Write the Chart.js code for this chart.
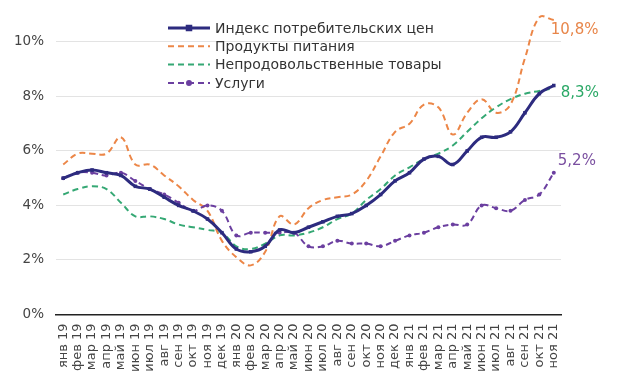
<!DOCTYPE html>
<html>
<head>
<meta charset="utf-8">
<script src="https://cdn.jsdelivr.net/npm/chart.js@4"></script>
<style>
  body { margin: 0; background: #fff; }
  #wrap { width: 620px; height: 381px; }
</style>
</head>
<body>
<div id="wrap"><canvas id="infl"></canvas></div>
<script>
const months = ['янв 19', 'фев 19', 'мар 19', 'апр 19', 'май 19', 'июн 19', 'июл 19', 'авг 19', 'сен 19', 'окт 19', 'ноя 19', 'дек 19',
    'янв 20', 'фев 20', 'мар 20', 'апр 20', 'май 20', 'июн 20', 'июл 20', 'авг 20', 'сен 20', 'окт 20', 'ноя 20', 'дек 20',
    'янв 21', 'фев 21', 'мар 21', 'апр 21', 'май 21', 'июн 21', 'июл 21', 'авг 21', 'сен 21', 'окт 21', 'ноя 21'];

const cpi      = [5.0, 5.2, 5.3, 5.2, 5.1, 4.7, 4.6, 4.3, 4.0, 3.8, 3.5, 3.0, 2.4, 2.3, 2.5, 3.1, 3.0, 3.2, 3.4, 3.6, 3.7, 4.0, 4.4, 4.9, 5.2, 5.7, 5.8, 5.5, 6.0, 6.5, 6.5, 6.7, 7.4, 8.1, 8.4];
const food     = [5.5, 5.9, 5.9, 5.9, 6.5, 5.5, 5.5, 5.1, 4.7, 4.2, 3.8, 2.7, 2.1, 1.8, 2.3, 3.6, 3.3, 3.9, 4.2, 4.3, 4.4, 4.9, 5.8, 6.7, 7.0, 7.7, 7.6, 6.6, 7.4, 7.9, 7.4, 7.7, 9.4, 10.9, 10.8];
const nonFood  = [4.4, 4.6, 4.7, 4.6, 4.1, 3.6, 3.6, 3.5, 3.3, 3.2, 3.1, 3.0, 2.5, 2.4, 2.6, 2.9, 2.9, 3.0, 3.2, 3.5, 3.7, 4.2, 4.6, 5.1, 5.4, 5.7, 5.9, 6.2, 6.7, 7.2, 7.6, 7.9, 8.1, 8.2, 8.3];
const services = [5.0, 5.2, 5.2, 5.1, 5.2, 4.9, 4.6, 4.4, 4.1, 3.8, 4.0, 3.8, 2.9, 3.0, 3.0, 3.0, 3.0, 2.5, 2.5, 2.7, 2.6, 2.6, 2.5, 2.7, 2.9, 3.0, 3.2, 3.3, 3.3, 4.0, 3.9, 3.8, 4.2, 4.4, 5.2];

const yTicks = [0, 2, 4, 6, 8, 10];

const FONT = 'DejaVu Sans';

// легенда столбиком, как в исходнике
const sideLegend = {
    id: 'sideLegend',
    afterDraw(chart) {
        const ctx = chart.ctx;
        ctx.save();
        ctx.font = '14px "' + FONT + '"';
        ctx.textBaseline = 'middle';
        chart.data.datasets.forEach((ds, i) => {
            const y = 28 + i * 18.3;
            ctx.strokeStyle = ds.borderColor;
            ctx.lineWidth = ds.borderWidth;
            ctx.setLineDash(ds.borderDash || []);
            ctx.beginPath();
            ctx.moveTo(168, y);
            ctx.lineTo(210, y);
            ctx.stroke();
            ctx.setLineDash([]);
            if (ds.pointRadius) {
                ctx.fillStyle = ds.borderColor;
                Chart.helpers.drawPoint(ctx, {pointStyle: ds.pointStyle, radius: ds.pointRadius, rotation: 0, borderWidth: 1}, 189, y);
            }
            ctx.fillStyle = '#333';
            ctx.fillText(ds.label, 215, y + 1);
        });
        ctx.restore();
    }
};

// подписи последних значений
const endLabels = {
    id: 'endLabels',
    afterDatasetsDraw(chart) {
        const ctx = chart.ctx;
        ctx.save();
        ctx.font = '15px "' + FONT + '"';
        ctx.textBaseline = 'middle';
        chart.data.datasets.forEach((ds, i) => {
            if (ds.endDy === undefined) return;
            const pts = chart.getDatasetMeta(i).data;
            const p = pts[pts.length - 1];
            const v = ds.data[ds.data.length - 1];
            ctx.fillStyle = ds.endColor;
            ctx.fillText(v.toFixed(1).replace('.', ',') + '%', p.x + ds.endDx, p.y + ds.endDy);
        });
        ctx.restore();
    }
};

const ctx = document.getElementById('infl').getContext('2d');
const chart = new Chart(ctx, {
    type: 'line',
    data: {
        labels: months,
        datasets: [{
            label: 'Индекс потребительских цен',
            data: cpi,
            borderColor: '#2d2b7f',
            backgroundColor: '#2d2b7f',
            borderWidth: 3,
            pointStyle: 'rect',
            pointRadius: 2.5,
            pointBorderWidth: 0,
            tension: 0.4,
            order: 0
        }, {
            label: 'Продукты питания',
            data: food,
            borderColor: '#ec8647',
            borderWidth: 2,
            borderDash: [6, 4],
            pointRadius: 0,
            tension: 0.4,
            endColor: '#e8864a', endDx: -3, endDy: 10,
            order: 3
        }, {
            label: 'Непродовольственные товары',
            data: nonFood,
            borderColor: '#35a874',
            borderWidth: 2,
            borderDash: [6, 4],
            pointRadius: 0,
            tension: 0.4,
            endColor: '#2aa866', endDx: 7, endDy: 5,
            order: 2
        }, {
            label: 'Услуги',
            data: services,
            borderColor: '#6b3fa0',
            backgroundColor: '#6b3fa0',
            borderWidth: 2,
            borderDash: [6, 4],
            pointStyle: 'circle',
            pointRadius: 2,
            pointBorderWidth: 0,
            tension: 0.4,
            endColor: '#7a4fa0', endDx: 4, endDy: -12,
            order: 1
        }]
    },
    plugins: [sideLegend, endLabels],
    options: {
        responsive: true,
        maintainAspectRatio: false,
        animation: false,
        clip: false,
        layout: { padding: { top: 2, right: 59, bottom: 0, left: 2 } },
        plugins: {
            legend: { display: false },
            tooltip: { enabled: false }
        },
        scales: {
            x: {
                offset: true,
                grid: { display: false, drawTicks: false },
                border: { display: true, color: '#222', width: 1.5 },
                ticks: {
                    autoSkip: false,
                    maxRotation: 90,
                    minRotation: 90,
                    padding: 9,
                    color: '#444',
                    font: { family: FONT, size: 13 }
                }
            },
            y: {
                min: 0,
                max: 10.8,
                afterBuildTicks(axis) {
                    axis.ticks = yTicks.map(v => ({ value: v }));
                },
                grid: { color: '#e3e3e3', drawTicks: false, lineWidth: 1 },
                border: { display: false },
                ticks: {
                    padding: 12,
                    color: '#444',
                    font: { family: FONT, size: 13.5 },
                    callback: v => v + '%'
                }
            }
        }
    }
});
</script>
</body>
</html>
